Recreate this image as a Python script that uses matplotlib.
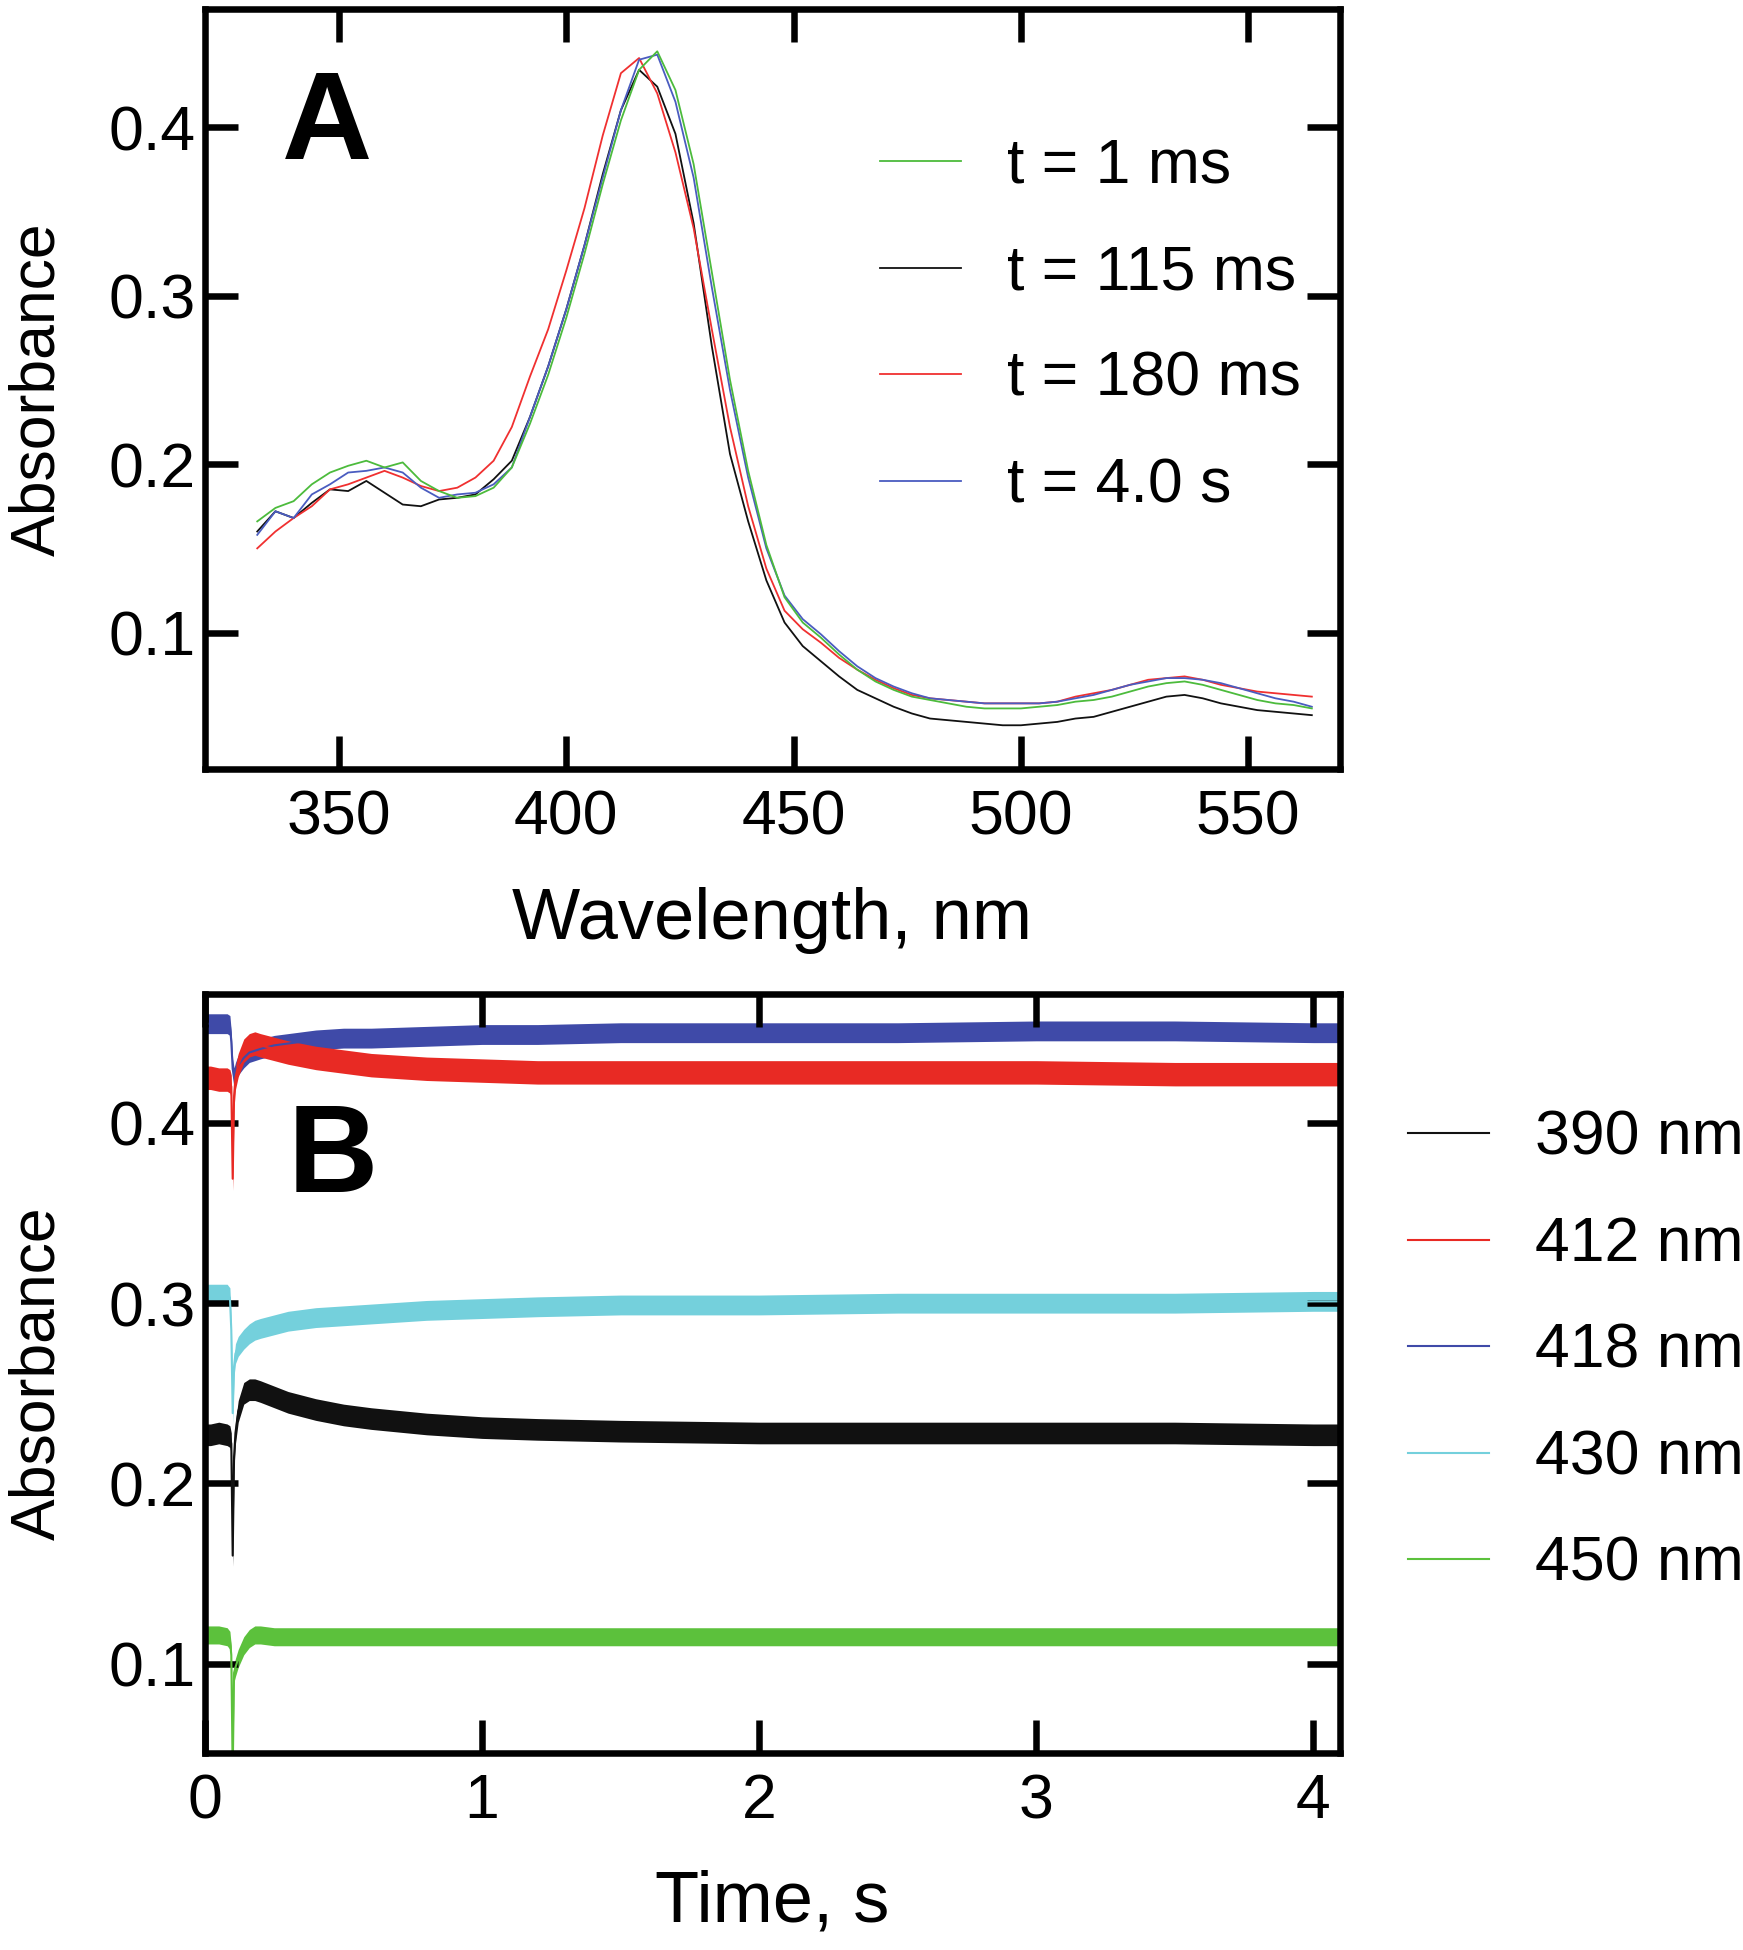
import numpy as np
import matplotlib
matplotlib.use("Agg")
from matplotlib import pyplot as plt

plt.rcParams['font.family'] = ['Liberation Sans', 'DejaVu Sans']

# ---- panel A: spectra at different times ----
wavelength = [332, 336, 340, 344, 348, 352, 356, 360, 364, 368, 372, 376, 380,
              384, 388, 392, 396, 400, 404, 408, 412, 416, 420, 424, 428, 432,
              436, 440, 444, 448, 452, 456, 460, 464, 468, 472, 476, 480, 484,
              488, 492, 496, 500, 504, 508, 512, 516, 520, 524, 528, 532, 536,
              540, 544, 548, 552, 556, 560, 564]

abs_1ms = [0.166, 0.174, 0.178, 0.188, 0.195, 0.199, 0.202, 0.198, 0.201, 0.190,
           0.184, 0.180, 0.181, 0.186, 0.198, 0.224, 0.253, 0.287, 0.325, 0.366,
           0.404, 0.434, 0.445, 0.422, 0.378, 0.314, 0.250, 0.196, 0.152, 0.121,
           0.106, 0.097, 0.087, 0.078, 0.071, 0.066, 0.062, 0.060, 0.058, 0.056,
           0.055, 0.055, 0.055, 0.056, 0.057, 0.059, 0.060, 0.062, 0.065, 0.068,
           0.070, 0.071, 0.069, 0.066, 0.063, 0.060, 0.058, 0.057, 0.055]

abs_115ms = [0.160, 0.172, 0.168, 0.177, 0.185, 0.184, 0.190, 0.183, 0.176, 0.175,
             0.179, 0.180, 0.182, 0.191, 0.202, 0.228, 0.258, 0.292, 0.330, 0.372,
             0.410, 0.434, 0.424, 0.396, 0.343, 0.270, 0.206, 0.166, 0.131, 0.106,
             0.092, 0.083, 0.074, 0.066, 0.061, 0.056, 0.052, 0.049, 0.048, 0.047,
             0.046, 0.045, 0.045, 0.046, 0.047, 0.049, 0.050, 0.053, 0.056, 0.059,
             0.062, 0.063, 0.061, 0.058, 0.056, 0.054, 0.053, 0.052, 0.051]

abs_180ms = [0.150, 0.160, 0.168, 0.175, 0.185, 0.188, 0.192, 0.196, 0.192, 0.187,
             0.184, 0.186, 0.192, 0.202, 0.222, 0.252, 0.280, 0.315, 0.352, 0.395,
             0.432, 0.441, 0.420, 0.385, 0.340, 0.280, 0.222, 0.175, 0.138, 0.113,
             0.102, 0.094, 0.085, 0.078, 0.072, 0.067, 0.063, 0.061, 0.060, 0.059,
             0.058, 0.058, 0.058, 0.058, 0.059, 0.062, 0.064, 0.066, 0.069, 0.072,
             0.073, 0.074, 0.072, 0.069, 0.067, 0.065, 0.064, 0.063, 0.062]

abs_4s = [0.158, 0.172, 0.168, 0.182, 0.188, 0.195, 0.196, 0.198, 0.195, 0.186,
          0.180, 0.182, 0.183, 0.188, 0.198, 0.228, 0.258, 0.292, 0.330, 0.370,
          0.410, 0.440, 0.443, 0.415, 0.370, 0.305, 0.244, 0.192, 0.150, 0.122,
          0.108, 0.099, 0.089, 0.080, 0.073, 0.068, 0.064, 0.061, 0.060, 0.059,
          0.058, 0.058, 0.058, 0.058, 0.059, 0.061, 0.063, 0.066, 0.069, 0.071,
          0.073, 0.073, 0.072, 0.070, 0.067, 0.064, 0.061, 0.059, 0.056]

spec_labels = ['t = 1 ms', 't = 115 ms', 't = 180 ms', 't = 4.0 s']
spec_colors = ['#4cbb3c', '#111111', '#f03030', '#4a5cc0']

# ---- panel B: kinetic traces (centre of noisy trace, and noise half-width) ----
time = [0, 0.02, 0.05, 0.08, 0.09, 0.095, 0.10, 0.105, 0.11, 0.12, 0.14, 0.16,
        0.18, 0.20, 0.25, 0.30, 0.40, 0.50, 0.60, 0.80, 1.0, 1.2, 1.5, 2.0,
        2.5, 3.0, 3.5, 4.0, 4.09]

trace_390 = [0.227, 0.227, 0.228, 0.227, 0.226, 0.222, 0.160, 0.215, 0.228,
             0.240, 0.250, 0.252, 0.252, 0.251, 0.248, 0.245, 0.241, 0.238,
             0.236, 0.233, 0.231, 0.230, 0.229, 0.228, 0.228, 0.228, 0.228,
             0.227, 0.227]
trace_412 = [0.425, 0.425, 0.424, 0.424, 0.423, 0.420, 0.369, 0.415, 0.425,
             0.432, 0.440, 0.443, 0.444, 0.443, 0.441, 0.439, 0.436, 0.434,
             0.432, 0.430, 0.429, 0.428, 0.428, 0.428, 0.428, 0.428, 0.427,
             0.427, 0.427]
trace_418 = [0.455, 0.455, 0.455, 0.455, 0.454, 0.445, 0.430, 0.425, 0.428,
             0.432, 0.436, 0.439, 0.440, 0.441, 0.443, 0.444, 0.446, 0.447,
             0.447, 0.448, 0.449, 0.449, 0.450, 0.450, 0.450, 0.451, 0.451,
             0.450, 0.450]
trace_430 = [0.305, 0.305, 0.305, 0.305, 0.303, 0.285, 0.239, 0.265, 0.272,
             0.276, 0.280, 0.283, 0.285, 0.286, 0.288, 0.290, 0.292, 0.293,
             0.294, 0.296, 0.297, 0.298, 0.299, 0.299, 0.300, 0.300, 0.300,
             0.301, 0.301]
trace_450 = [0.116, 0.116, 0.116, 0.115, 0.113, 0.105, 0.040, 0.095, 0.098,
             0.103, 0.110, 0.114, 0.116, 0.116, 0.115, 0.115, 0.115, 0.115,
             0.115, 0.115, 0.115, 0.115, 0.115, 0.115, 0.115, 0.115, 0.115,
             0.115, 0.115]

noise_390 = 0.006
noise_412 = 0.0065
noise_418 = 0.0055
noise_430 = 0.0055
noise_450 = 0.005

kin_labels = ['390 nm', '412 nm', '418 nm', '430 nm', '450 nm']
kin_colors = ['#111111', '#e82a24', '#3f4aa8', '#74d0dc', '#5cc13c']

# ---- figure ----
fig = plt.figure(figsize=(17.43, 19.5), dpi=100)
axA = fig.add_axes([0.1176, 0.6056, 0.6512, 0.3897])
axB = fig.add_axes([0.1176, 0.1010, 0.6512, 0.3891])

for ax in (axA, axB):
    for s in ax.spines.values():
        s.set_linewidth(4.7)
    ax.tick_params(direction='in', length=24, width=4.7, top=True, right=True,
                   labelsize=45)
    ax.tick_params(axis='x', pad=14)
    ax.tick_params(axis='y', pad=7)

# panel A
spectra = [abs_1ms, abs_115ms, abs_180ms, abs_4s]
draw_order = [1, 2, 3, 0]
lines = {}
for i in draw_order:
    lines[i], = axA.plot(wavelength, spectra[i], color=spec_colors[i], lw=1.3,
                         label=spec_labels[i])
axA.set_xlim(320.5, 570.2)
axA.set_ylim(0.019, 0.470)
axA.set_xticks([350, 400, 450, 500, 550])
axA.set_yticks([0.1, 0.2, 0.3, 0.4])
axA.set_xlabel('Wavelength, nm', fontsize=52)
axA.set_ylabel('Absorbance', fontsize=45)
axA.xaxis.set_label_coords(0.5, -0.155)
axA.yaxis.set_label_coords(-0.121, 0.5)
axA.legend([lines[i] for i in range(4)], spec_labels, loc='upper left',
           bbox_to_anchor=(0.505, 0.9298), bbox_transform=fig.transFigure,
           frameon=False, fontsize=45, handlelength=1.3, handletextpad=0.73,
           labelspacing=0.76, borderpad=0, borderaxespad=0)
fig.text(282 / 1743, 1 - 159 / 1950, 'A', fontsize=90, fontweight='bold',
         ha='left', va='baseline')

# panel B
traces = [trace_390, trace_412, trace_418, trace_430, trace_450]
noises = [noise_390, noise_412, noise_418, noise_430, noise_450]
t = np.array(time)
handles = {}
for i in [2, 1, 3, 0, 4]:
    c = np.array(traces[i])
    axB.fill_between(t, c - noises[i], c + noises[i], color=kin_colors[i], lw=0)
    handles[i], = axB.plot(t, c, color=kin_colors[i], lw=1.5, label=kin_labels[i])
axB.set_xlim(0, 4.096)
axB.set_ylim(0.0505, 0.4713)
axB.set_xticks([0, 1, 2, 3, 4])
axB.set_yticks([0.1, 0.2, 0.3, 0.4])
axB.set_xlabel('Time, s', fontsize=52)
axB.set_ylabel('Absorbance', fontsize=45)
axB.xaxis.set_label_coords(0.5, -0.153)
axB.yaxis.set_label_coords(-0.121, 0.5)
axB.legend([handles[i] for i in range(5)], kin_labels, loc='upper left',
           bbox_to_anchor=(0.8078, 0.4313), bbox_transform=fig.transFigure,
           frameon=False, fontsize=45, handlelength=1.3, handletextpad=0.73,
           labelspacing=0.76, borderpad=0, borderaxespad=0)
fig.text(288 / 1743, 1 - 1192 / 1950, 'B', fontsize=90, fontweight='bold',
         ha='left', va='baseline')

fig.savefig('out.png', dpi=100)
